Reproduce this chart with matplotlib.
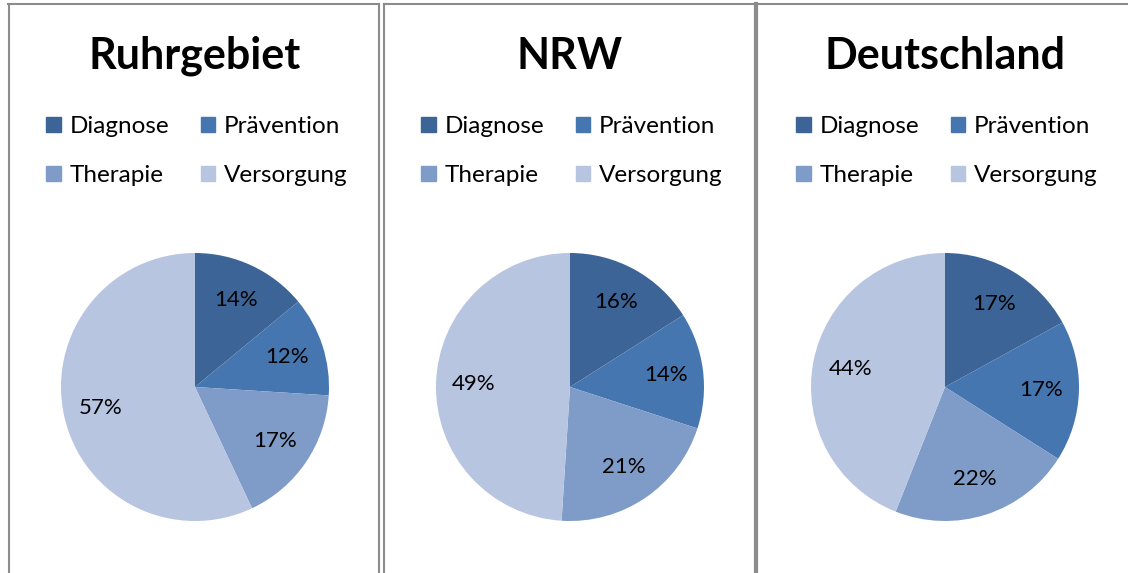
import matplotlib.pyplot as plt
from matplotlib.lines import Line2D
from matplotlib.patches import Patch

# Data
regions = ["Ruhrgebiet", "NRW", "Deutschland"]
categories = ["Diagnose", "Prävention", "Therapie", "Versorgung"]
ruhr_values = [14, 12, 17, 57]
nrw_values = [16, 14, 21, 49]
de_values = [17, 17, 22, 44]
all_values = [ruhr_values, nrw_values, de_values]

colors = ["#3C6496", "#4676B0", "#7F9CC8", "#B7C5E0"]

W, H = 1128, 573
fig = plt.figure(figsize=(W / 100, H / 100), dpi=100)
plt.rcParams['font.family'] = ['Lato', 'DejaVu Sans']

def px(x, y):
    # pixel (from top-left) to figure coords
    return x / W, 1 - y / H

# panel borders
border = "#8C8C8C"
def line(x0, y0, x1, y1, lw=1.5):
    a, b = px(x0, y0)
    c, d = px(x1, y1)
    fig.add_artist(Line2D([a, c], [b, d], color=border, lw=lw, transform=fig.transFigure))

line(8, 4, 379, 4)
line(384, 4, W, 4)
line(8.5, 4, 8.5, H)
line(379, 4, 379, H)
line(384, 4, 384, H)
line(756, 4, 756, H, lw=3)

centers = [195, 570, 945]
radius = 134
pie_cy = 387

for i, name in enumerate(regions):
    cx = centers[i]
    # title
    tx, ty = px(cx, 56)
    fig.text(tx, ty, name, fontsize=31, fontweight="bold", ha="center", va="center")

    # pie
    x0, y0 = px(cx - radius, pie_cy + radius)
    ax = fig.add_axes([x0, y0, 2 * radius / W, 2 * radius / H])
    wedges, texts, autotexts = ax.pie(all_values[i], colors=colors, startangle=90,
                                      counterclock=False, autopct="%d%%",
                                      pctdistance=0.72, radius=1.0,
                                      textprops={"fontsize": 16, "color": "black"})
    ax.set_xlim(-1, 1)
    ax.set_ylim(-1, 1)
    ax.set_aspect("equal")
    ax.axis("off")

    # legend, 2 columns, row-wise order
    handles = [Patch(color=c) for c in colors]
    order = [0, 2, 1, 3]
    lx, ly = px(cx + 2, 151)
    fig.legend([handles[k] for k in order], [categories[k] for k in order],
               loc="center", bbox_to_anchor=(lx, ly), ncol=2, frameon=False,
               fontsize=17.5, handlelength=0.6, handleheight=0.6,
               handletextpad=0.35, labelspacing=1.15, columnspacing=1.3)

fig.savefig("out.png", dpi=100)
